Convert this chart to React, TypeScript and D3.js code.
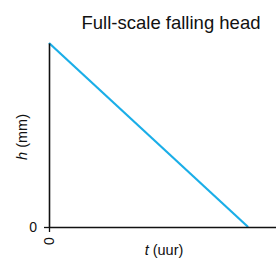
import React, { useRef, useEffect } from "react";
import * as d3 from "d3";

// falling head: h goes from full to zero over time (unitless scales)
const tValues = [0, 1];
const hValues = [1, 0];
const xTicks = [0];
const yTicks = [0];
const title = "Full-scale falling head";

export default function App() {
  const svgRef = useRef<SVGSVGElement>(null);

  useEffect(() => {
    const svg = d3.select(svgRef.current);
    svg.selectAll("*").remove();

    const x = d3.scaleLinear().domain([0, 1.14]).range([49, 276]);
    const y = d3.scaleLinear().domain([0, 1]).range([227, 43]);
    const font = "Arial, 'Liberation Sans', sans-serif";

    svg.append("text")
      .attr("x", 171).attr("y", 29)
      .attr("text-anchor", "middle")
      .style("font-family", font).style("font-size", "18.5px")
      .attr("fill", "#111")
      .text(title);

    const line = d3.line<number>()
      .x((_, i) => x(tValues[i]))
      .y(d => y(d));

    svg.append("path")
      .datum(hValues)
      .attr("d", line)
      .attr("fill", "none")
      .attr("stroke", "#1aaee8")
      .attr("stroke-width", 2.2);

    const yAxis = svg.append("g").attr("transform", `translate(${x(0)},0)`)
      .call(d3.axisLeft(y).tickValues(yTicks).tickSize(5).tickSizeOuter(0).tickFormat(d3.format("d")));
    yAxis.select(".domain").attr("stroke", "#111").attr("stroke-width", 1.6);
    yAxis.selectAll(".tick line").attr("stroke", "#111").attr("stroke-width", 1.3);
    yAxis.selectAll(".tick text").attr("x", -12)
      .style("font-family", font).style("font-size", "14px").attr("fill", "#111");

    const xAxis = svg.append("g").attr("transform", `translate(0,${y(0)})`)
      .call(d3.axisBottom(x).tickValues(xTicks).tickSize(5).tickSizeOuter(0).tickFormat(d3.format("d")));
    xAxis.select(".domain").attr("stroke", "#111").attr("stroke-width", 1.6);
    xAxis.selectAll(".tick line").attr("stroke", "#111").attr("stroke-width", 1.3);
    xAxis.selectAll(".tick text")
      .attr("transform", "rotate(-90)")
      .attr("x", -14).attr("y", 0).attr("dy", "0.35em")
      .attr("text-anchor", "middle")
      .style("font-family", font).style("font-size", "14px").attr("fill", "#111");

    const xLab = svg.append("text")
      .attr("x", 164).attr("y", 255)
      .attr("text-anchor", "middle")
      .style("font-family", font).style("font-size", "14.5px").attr("fill", "#111");
    xLab.append("tspan").style("font-style", "italic").text("t");
    xLab.append("tspan").text(" (uur)");

    const yLab = svg.append("text")
      .attr("transform", "translate(27,137) rotate(-90)")
      .attr("text-anchor", "middle")
      .style("font-family", font).style("font-size", "14.5px").attr("fill", "#111");
    yLab.append("tspan").style("font-style", "italic").text("h");
    yLab.append("tspan").text(" (mm)");
  }, []);

  return (
    <svg ref={svgRef} width={276} height={259}
      style={{ position: "absolute", left: 0, top: 0, background: "#fff" }} />
  );
}
